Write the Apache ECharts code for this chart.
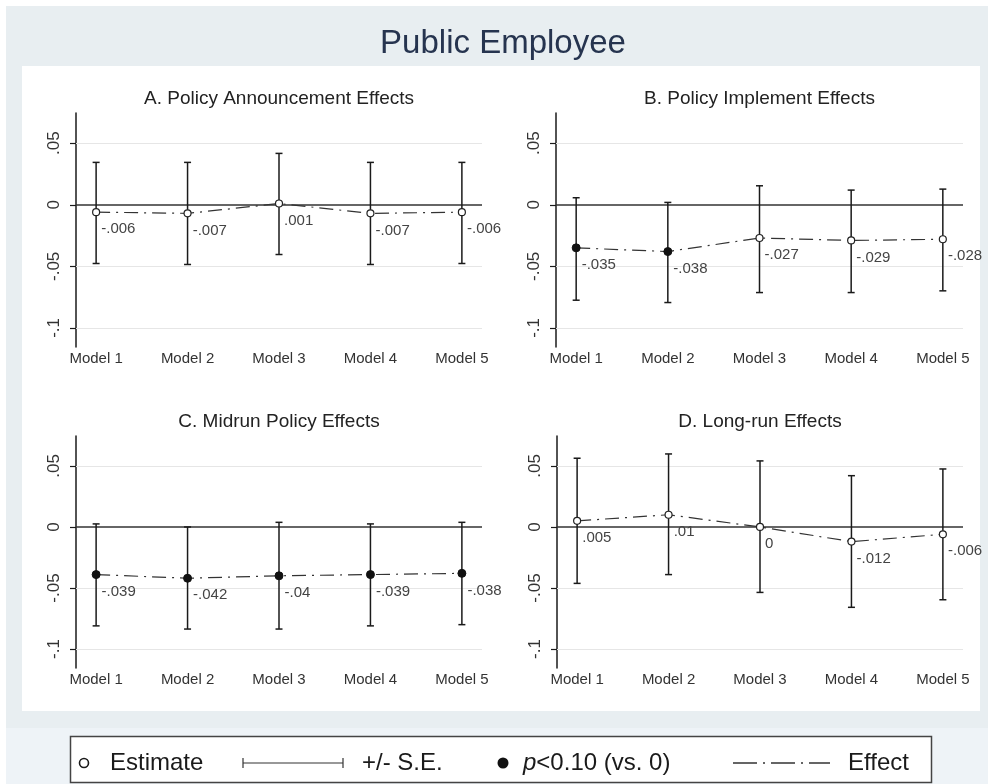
<!DOCTYPE html>
<html><head><meta charset="utf-8">
<script src="https://cdn.jsdelivr.net/npm/echarts@6/dist/echarts.min.js"></script>
<style>html,body{margin:0;padding:0;background:#fff}#c{width:988px;height:784px}</style>
</head><body><div id="c"></div>
<script>
const categories = ['Model 1','Model 2','Model 3','Model 4','Model 5'];
const xPositions = [1,2,3,4,5];
const yTicks = [-0.1,-0.05,0,0.05];
const yTickLabels = ['-.1','-.05','0','.05'];
const panelTitles = ['A. Policy Announcement Effects','B. Policy Implement Effects','C. Midrun Policy Effects','D. Long-run Effects'];

const estA = [-0.006,-0.007,0.001,-0.007,-0.006];
const loA  = [-0.0477,-0.0485,-0.0404,-0.0485,-0.0477];
const hiA  = [0.0344,0.0344,0.0417,0.0344,0.0344];
const sigA = [0,0,0,0,0];

const estB = [-0.035,-0.038,-0.027,-0.029,-0.028];
const loB  = [-0.0775,-0.0794,-0.0713,-0.0713,-0.0699];
const hiB  = [0.0057,0.0019,0.0154,0.0119,0.0127];
const sigB = [1,1,0,0,0];

const estC = [-0.039,-0.042,-0.04,-0.039,-0.038];
const loC  = [-0.081,-0.0836,-0.0836,-0.081,-0.080];
const hiC  = [0.0025,0.0000,0.0038,0.0025,0.0038];
const sigC = [1,1,1,1,1];

const estD = [0.005,0.01,0,-0.012,-0.006];
const loD  = [-0.0462,-0.039,-0.0536,-0.0658,-0.0596];
const hiD  = [0.0563,0.0598,0.0541,0.042,0.0475];
const sigD = [0,0,0,0,0];

const panels = [
  {est:estA, lo:loA, hi:hiA, sig:sigA},
  {est:estB, lo:loB, hi:hiB, sig:sigB},
  {est:estC, lo:loC, hi:hiC, sig:sigC},
  {est:estD, lo:loD, hi:hiD, sig:sigD}
];

const FF = "'Liberation Sans', Arial, Helvetica, sans-serif";
const grids = [
  {left:76, top:113, width:406, height:234},
  {left:556, top:113, width:407, height:234},
  {left:76, top:436, width:406, height:232},
  {left:557, top:436, width:406, height:232}
];

function fmtNum(v){
  let s = String(+v.toFixed(3));
  return s.replace(/^(-?)0\./,'$1.');
}
function yLab(v){
  for (let i=0;i<yTicks.length;i++) if (Math.abs(v-yTicks[i])<1e-9) return yTickLabels[i];
  return '';
}
function xLab(v){
  const r = Math.round(v);
  if (Math.abs(v-r)>1e-6) return '';
  const i = xPositions.indexOf(r);
  return i>=0 ? categories[i] : '';
}

function errRender(params, api){
  const x = api.value(0), lo = api.value(1), hi = api.value(2);
  const a = api.coord([x, hi]), b = api.coord([x, lo]);
  const w = 3.5;
  const st = {stroke:'#1a1a1a', lineWidth:1.5};
  return {type:'group', children:[
    {type:'line', shape:{x1:a[0],y1:a[1],x2:b[0],y2:b[1]}, style:st},
    {type:'line', shape:{x1:a[0]-w,y1:a[1],x2:a[0]+w,y2:a[1]}, style:st},
    {type:'line', shape:{x1:b[0]-w,y1:b[1],x2:b[0]+w,y2:b[1]}, style:st}
  ]};
}

const xAxis = [], yAxis = [], series = [], title = [];
title.push({text:'Public Employee', left:503, top:27, textAlign:'center', padding:0,
  textStyle:{fontSize:33, fontWeight:'normal', color:'#26344f', fontFamily:FF}});

panels.forEach((p, i) => {
  const g = grids[i];
  title.push({text:panelTitles[i], left:g.left + g.width/2, top:g.top - 24, textAlign:'center', padding:0,
    textStyle:{fontSize:19, fontWeight:'normal', color:'#222', fontFamily:FF}});
  xAxis.push({type:'value', gridIndex:i, min:0.78, max:5.22,
    splitLine:{show:false}, axisLine:{show:false, onZero:false}, axisTick:{show:false},
    axisLabel:{customValues:xPositions, formatter:xLab, margin:4, fontSize:15, color:'#333', fontFamily:FF}});
  yAxis.push({type:'value', gridIndex:i, min:-0.1155, max:0.0745,
    splitLine:{show:false},
    axisLine:{show:true, onZero:false, lineStyle:{color:'#1a1a1a', width:1.5}},
    axisTick:{show:true, length:6, customValues:yTicks, lineStyle:{color:'#1a1a1a', width:1.2}},
    axisLabel:{rotate:90, margin:13, fontSize:17, color:'#333', fontFamily:FF, customValues:yTicks,
      formatter:yLab}});
  series.push({
    type:'custom', xAxisIndex:i, yAxisIndex:i, z:2, silent:true,
    renderItem:errRender, encode:{x:0, y:[1,2]},
    data: xPositions.map((x,k)=>[x, p.lo[k], p.hi[k]])
  });
  series.push({
    type:'line', xAxisIndex:i, yAxisIndex:i, z:3, silent:true,
    symbol:'circle',
    lineStyle:{color:'#333', width:1.2, type:[14,6,2,6]},
    data: xPositions.map((x,k)=>({
      value:[x, p.est[k]],
      symbolSize: p.sig[k] ? 8 : 7,
      itemStyle: p.sig[k] ? {color:'#111', borderColor:'#111', borderWidth:1}
                          : {color:'#fff', borderColor:'#222', borderWidth:1.2}
    })),
    label:{show:true, position:'right', distance:1, offset:[0,17], fontSize:15, color:'#444', fontFamily:FF,
      formatter: prm => fmtNum(prm.value[1])},
    markLine:{silent:true, z:1, symbol:['none','none'], label:{show:false}, animation:false,
      data:[
        {yAxis:0.05, lineStyle:{color:'#e6e6e6', width:1, type:'solid'}},
        {yAxis:-0.05, lineStyle:{color:'#e6e6e6', width:1, type:'solid'}},
        {yAxis:-0.1, lineStyle:{color:'#e6e6e6', width:1, type:'solid'}},
        {yAxis:0, lineStyle:{color:'#333', width:1.5, type:'solid'}}
      ]}
  });
});

const LY = 763;
const tstyle = (t, x) => ({type:'text', x:x, y:LY, z:10, style:{text:t, fontSize:24, fontFamily:FF, fill:'#1a1a1a',
  textAlign:'left', textVerticalAlign:'middle', align:'left', verticalAlign:'middle'}});
const graphic = [
  {type:'rect', z:-10, shape:{x:6,y:6,width:982,height:778}, style:{fill:'#e8eef1'}},
  {type:'rect', z:-9, shape:{x:6,y:728,width:982,height:56}, style:{fill:'#eef3f7'}},
  {type:'rect', z:-8, shape:{x:22,y:66,width:958,height:645}, style:{fill:'#ffffff'}},
  {type:'rect', z:-7, shape:{x:70.5,y:736.5,width:861,height:46}, style:{fill:'#ffffff', stroke:'#444', lineWidth:1.5}},
  {type:'circle', z:10, shape:{cx:84,cy:LY,r:4.5}, style:{fill:'#fff', stroke:'#1a1a1a', lineWidth:1.6}},
  tstyle('Estimate', 110),
  {type:'line', z:10, shape:{x1:243,y1:LY,x2:343,y2:LY}, style:{stroke:'#333', lineWidth:1.2}},
  {type:'line', z:10, shape:{x1:243,y1:LY-5,x2:243,y2:LY+5}, style:{stroke:'#333', lineWidth:1.2}},
  {type:'line', z:10, shape:{x1:343,y1:LY-5,x2:343,y2:LY+5}, style:{stroke:'#333', lineWidth:1.2}},
  tstyle('+/- S.E.', 362),
  {type:'circle', z:10, shape:{cx:503,cy:LY,r:5.5}, style:{fill:'#111'}},
  {type:'text', x:523, y:LY, z:10, style:{text:'{i|p}<0.10 (vs. 0)', fontSize:24, fontFamily:FF, fill:'#1a1a1a',
     textAlign:'left', textVerticalAlign:'middle', align:'left', verticalAlign:'middle',
     rich:{i:{fontStyle:'italic', fontSize:24, fontFamily:FF, fill:'#1a1a1a'}}}},
  {type:'line', z:10, shape:{x1:733,y1:LY,x2:830,y2:LY}, style:{stroke:'#333', lineWidth:1.5, lineDash:[24,6,2,6]}},
  tstyle('Effect', 848)
];

const chart = echarts.init(document.getElementById('c'));
chart.setOption({
  animation:false,
  backgroundColor:'#ffffff',
  title: title,
  grid: grids,
  xAxis: xAxis,
  yAxis: yAxis,
  series: series,
  graphic: graphic
});
</script></body></html>
